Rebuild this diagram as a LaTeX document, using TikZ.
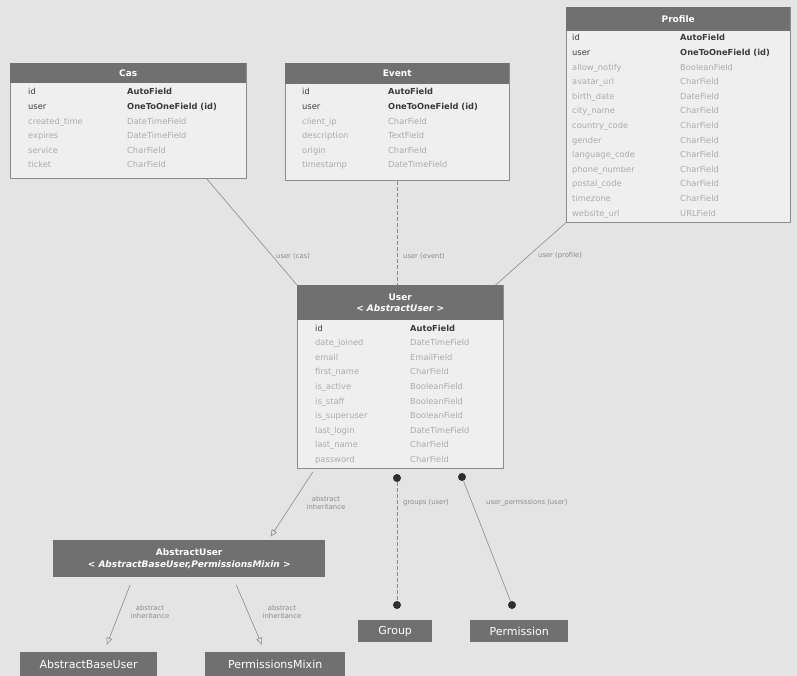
\documentclass[tikz,border=0pt]{standalone}
\usepackage{fontspec}
\setmainfont{DejaVu Sans}[BoldFont={DejaVu Sans Bold},ItalicFont={DejaVu Sans Oblique},BoldItalicFont={DejaVu Sans Bold Oblique}]
\usetikzlibrary{arrows.meta,calc}
\definecolor{bg}{HTML}{E4E4E4}
\definecolor{hdrfill}{HTML}{707070}
\definecolor{boxfill}{HTML}{EFEFEF}
\definecolor{boxline}{HTML}{8C8C8C}
\definecolor{linecol}{HTML}{8A8A8A}
\definecolor{labeltext}{HTML}{8A8A8A}
\definecolor{fadetext}{HTML}{ABABAB}
\definecolor{keytext}{HTML}{3A3A3A}
\definecolor{dotcol}{HTML}{2E2E2E}
\tikzset{
  tbl/.style={draw=boxline, fill=boxfill, line width=0.6pt, inner sep=0pt, anchor=north west},
  hdr/.style={fill=hdrfill, text=white, font=\bfseries\fontsize{9}{11.5}\selectfont, inner sep=0pt, anchor=north west, align=center},
  plainbox/.style={fill=hdrfill, text=white, font=\fontsize{11}{13}\selectfont, inner sep=0pt, anchor=north west},
  fk/.style={font=\fontsize{8.3}{9}\selectfont, text=fadetext, anchor=base west, inner sep=0pt},
  fkey/.style={fk, text=keytext},
  fkeyb/.style={fk, text=keytext, font=\bfseries\fontsize{8.3}{9}\selectfont},
  elabel/.style={font=\fontsize{6.8}{7.6}\selectfont, text=labeltext, inner sep=0pt, align=center},
  link/.style={draw=linecol, line width=0.6pt},
  dashlink/.style={link, dash pattern=on 4pt off 2pt},
  inh/.style={link, -{Triangle[open, length=7pt, width=6pt]}},
  dot/.style={circle, fill=dotcol, inner sep=0pt, minimum size=8pt}
}
\begin{document}
\begin{tikzpicture}[x=1pt,y=-1pt]
\useasboundingbox (0,0) rectangle (797,676);
\fill[bg] (0,0) rectangle (797,676);

% ---------- Cas ----------
\node[tbl, minimum width=236pt, minimum height=115pt] (cas) at (10,63) {};
\node[hdr, minimum width=236pt, minimum height=20pt] (cash) at (10,63) {Cas};
\foreach \s/\u/\n/\t [count=\i from 0] in {fkey/fkeyb/id/AutoField, fkey/fkeyb/user/OneToOneField (id), fk/fk/created\_time/DateTimeField, fk/fk/expires/DateTimeField, fk/fk/service/CharField, fk/fk/ticket/CharField}{
  \node[\s] (casn\i) at (28,{95+14.6*\i}) {\n};
  \node[\u] (cast\i) at (127,{95+14.6*\i}) {\t};
}

% ---------- Event ----------
\node[tbl, minimum width=224pt, minimum height=117pt] (event) at (285,63) {};
\node[hdr, minimum width=224pt, minimum height=21pt] (eventh) at (285,63) {Event};
\foreach \s/\u/\n/\t [count=\i from 0] in {fkey/fkeyb/id/AutoField, fkey/fkeyb/user/OneToOneField (id), fk/fk/client\_ip/CharField, fk/fk/description/TextField, fk/fk/origin/CharField, fk/fk/timestamp/DateTimeField}{
  \node[\s] (eventn\i) at (302,{95+14.6*\i}) {\n};
  \node[\u] (eventt\i) at (388,{95+14.6*\i}) {\t};
}

% ---------- Profile ----------
\node[tbl, minimum width=224pt, minimum height=215pt] (profile) at (566,7) {};
\node[hdr, minimum width=224pt, minimum height=24pt] (profileh) at (566,7) {Profile};
\foreach \s/\u/\n/\t [count=\i from 0] in {fkey/fkeyb/id/AutoField, fkey/fkeyb/user/OneToOneField (id), fk/fk/allow\_notify/BooleanField, fk/fk/avatar\_url/CharField, fk/fk/birth\_date/DateField, fk/fk/city\_name/CharField, fk/fk/country\_code/CharField, fk/fk/gender/CharField, fk/fk/language\_code/CharField, fk/fk/phone\_number/CharField, fk/fk/postal\_code/CharField, fk/fk/timezone/CharField, fk/fk/website\_url/URLField}{
  \node[\s] (profilen\i) at (572,{41+14.6*\i}) {\n};
  \node[\u] (profilet\i) at (680,{41+14.6*\i}) {\t};
}

% ---------- User ----------
\node[tbl, minimum width=206pt, minimum height=183pt] (user) at (297,285) {};
\node[hdr, minimum width=206pt, minimum height=35pt] (userh) at (297,285) {User\\\textit{< AbstractUser >}};
\foreach \s/\u/\n/\t [count=\i from 0] in {fkey/fkeyb/id/AutoField, fk/fk/date\_joined/DateTimeField, fk/fk/email/EmailField, fk/fk/first\_name/CharField, fk/fk/is\_active/BooleanField, fk/fk/is\_staff/BooleanField, fk/fk/is\_superuser/BooleanField, fk/fk/last\_login/DateTimeField, fk/fk/last\_name/CharField, fk/fk/password/CharField}{
  \node[\s] (usern\i) at (315,{331+14.6*\i}) {\n};
  \node[\u] (usert\i) at (410,{331+14.6*\i}) {\t};
}

% ---------- AbstractUser and bases ----------
\node[hdr, minimum width=272pt, minimum height=37pt] (au) at (53,540) {AbstractUser\\\textit{< AbstractBaseUser,PermissionsMixin >}};
\node[plainbox, minimum width=137pt, minimum height=24pt] (abu) at (20,652) {AbstractBaseUser};
\node[plainbox, minimum width=140pt, minimum height=24pt] (pm) at (205,652) {PermissionsMixin};
\node[plainbox, minimum width=74pt, minimum height=22pt] (group) at (358,620) {Group};
\node[plainbox, minimum width=98pt, minimum height=22pt] (perm) at (470,620) {Permission};

% ---------- connectors ----------
\draw[link] ([xshift=-40pt]cas.south east) -- (user.north west);
\node[elabel, anchor=west] (lcas) at (276,256) {user (cas)};
\draw[dashlink] (event.south) -- (event.south |- user.north);
\node[elabel, anchor=west] (levent) at (403,256) {user (event)};
\draw[link] (profile.south west) -- ([xshift=-8pt]user.north east);
\node[elabel, anchor=west] (lprofile) at (538,256) {user (profile)};

\draw[inh, shorten <=4pt, shorten >=4pt] ([xshift=18pt]user.south west) -- ([xshift=-57pt]au.north east);
\node[elabel] (linh1) at (326,503) {abstract\\inheritance};
\draw[inh, shorten <=8pt, shorten >=8pt] ([xshift=80pt]au.south west) -- ([xshift=84pt]abu.north west);
\node[elabel] (linh2) at (150,612) {abstract\\inheritance};
\draw[inh, shorten <=8pt, shorten >=8pt] ([xshift=180pt]au.south west) -- ([xshift=60pt]pm.north west);
\node[elabel] (linh3) at (282,612) {abstract\\inheritance};

\node[dot] (g1) at (397,478) {};
\node[dot] (g2) at (397,605) {};
\draw[dashlink] (g1) -- (g2);
\node[elabel, anchor=west] (lgroup) at (403,503) {groups (user)};
\node[dot] (p1) at (462,477) {};
\node[dot] (p2) at (512,605) {};
\draw[link] (p1) -- (p2);
\node[elabel, anchor=west] (lperm) at (486,503) {user\_permissions (user)};
\end{tikzpicture}
\end{document}
